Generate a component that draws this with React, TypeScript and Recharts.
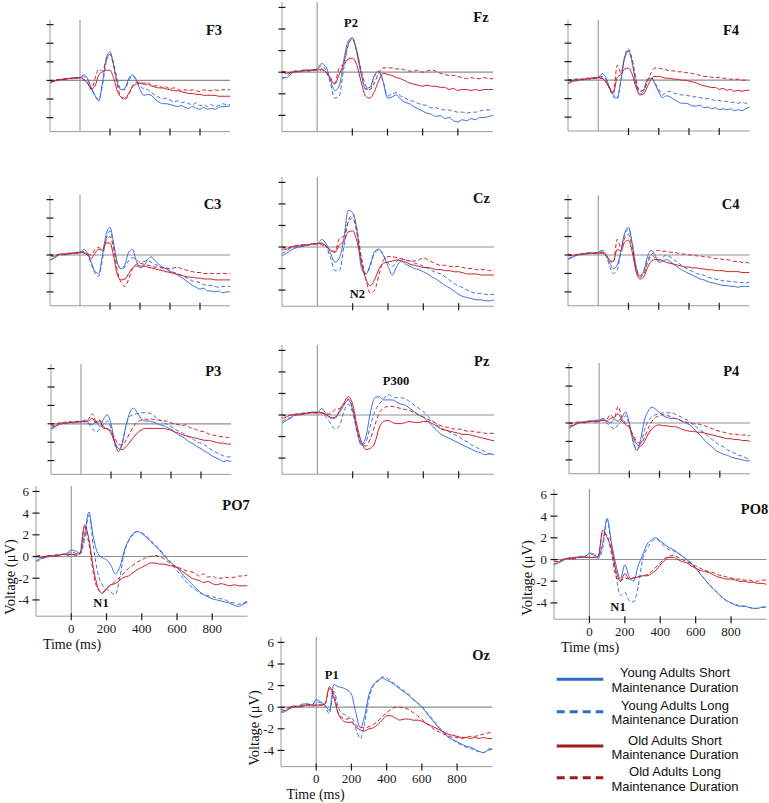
import React from 'react';
import { LineChart, Line, XAxis, YAxis, ReferenceLine } from 'recharts';

// ---------- categories ----------
const TIMES = [
  -200, -175, -150, -125, -100, -75, -50, -25, 0,
  25, 50, 75, 100, 125, 150, 175, 200, 225, 250, 275, 300, 325, 350, 375, 400,
  425, 450, 475, 500, 525, 550, 575, 600, 625, 650, 675, 700, 725, 750, 775, 800,
  825, 850, 875, 900, 925, 950, 975, 1000,
];
const X_TICKS_LABELLED = [0, 200, 400, 600, 800];
const X_TICKS_PLAIN = [200, 400, 600, 800];
const Y_TICKS = [-4, -2, 0, 2, 4, 6];
const SERIES_LABELS = [
  ['Young Adults Short', 'Maintenance Duration'],
  ['Young Adults Long', 'Maintenance Duration'],
  ['Old Adults Short', 'Maintenance Duration'],
  ['Old Adults Long', 'Maintenance Duration'],
];

// ---------- values (µV) : YS = young short, YL = young long, OS = old short, OL = old long ----------
const F3_YS = [-0.3,-0.1,0.0,0.1,0.1,0.2,0.2,0.2,0.3,
  0.6,0.2,-0.8,-1.6,-2.2,-0.2,2.4,3.1,1.5,-0.3,-1.0,-0.8,0.2,0.6,0.1,-1.0,
  -1.6,-1.5,-1.6,-2.0,-2.3,-2.5,-2.5,-2.6,-2.7,-2.8,-2.7,-2.9,-3.0,-2.8,-3.0,-3.1,-2.9,-3.1,-3.0,-3.1,-2.9,-2.8,-2.8,-2.7];
const F3_YL = [-0.2,-0.1,0.1,0.1,0.2,0.2,0.2,0.3,0.3,
  0.4,0.1,-0.8,-1.7,-2.0,-0.5,2.0,2.9,1.8,0.0,-1.0,-1.0,0.0,0.5,0.0,-0.6,
  -0.9,-1.0,-1.3,-1.6,-1.8,-2.0,-1.9,-2.1,-2.3,-2.2,-2.4,-2.3,-2.5,-2.6,-2.4,-2.7,-2.6,-2.8,-2.6,-2.8,-2.7,-2.5,-2.6,-2.6];
const F3_OS = [0.0,-0.1,0.1,0.1,0.2,0.2,0.3,0.3,0.3,
  0.1,-0.3,-0.9,-0.6,0.6,0.9,1.1,1.1,0.2,-1.2,-1.8,-1.9,-1.4,-0.7,-0.4,-0.3,
  -0.4,-0.4,-0.6,-0.7,-0.8,-0.8,-0.9,-1.0,-1.1,-1.1,-1.2,-1.3,-1.4,-1.4,-1.5,-1.5,-1.6,-1.6,-1.6,-1.6,-1.7,-1.7,-1.7,-1.7];
const F3_OL = [0.0,-0.1,0.0,0.1,0.1,0.2,0.2,0.3,0.3,
  0.1,-0.2,-1.0,0.2,1.2,1.0,2.2,2.8,1.5,-0.6,-1.8,-2.1,-1.5,-0.6,-0.2,-0.2,
  -0.3,-0.2,-0.5,-0.6,-0.5,-0.8,-0.7,-0.9,-0.8,-0.9,-1.1,-1.0,-1.1,-1.0,-1.1,-1.2,-1.0,-1.1,-1.1,-1.0,-1.1,-1.0,-1.0,-1.0];

const FZ_YS = [-0.5,-0.5,-0.2,0.1,0.0,0.2,0.1,0.2,0.3,
  0.8,0.5,-0.7,-1.7,-1.3,1.0,2.8,3.2,1.8,-0.2,-1.5,-1.4,-0.3,0.1,-0.9,-2.4,
  -2.3,-2.1,-2.5,-2.8,-2.9,-3.2,-3.4,-3.6,-3.8,-3.9,-4.1,-4.0,-4.3,-4.2,-4.5,-4.6,-4.4,-4.5,-4.3,-4.4,-4.2,-4.2,-4.1,-4.0];
const FZ_YL = [-0.6,-0.4,0.0,0.1,0.1,0.2,0.2,0.2,0.3,
  0.6,0.2,-1.0,-2.4,-2.2,0.2,2.5,3.1,2.0,0.0,-1.6,-1.6,-0.4,0.0,-0.8,-2.2,
  -2.0,-1.9,-2.2,-2.4,-2.6,-2.7,-2.9,-3.0,-3.1,-3.3,-3.3,-3.4,-3.5,-3.5,-3.6,-3.7,-3.7,-3.8,-3.7,-3.7,-3.6,-3.5,-3.5,-3.4];
const FZ_OS = [0.0,-0.1,0.0,0.0,0.1,0.1,0.2,0.2,0.2,
  0.3,0.0,-0.6,-1.1,-0.2,0.6,1.2,1.3,0.7,-0.9,-2.2,-2.4,-1.8,-0.8,-0.1,-0.2,
  -0.3,-0.5,-0.6,-0.8,-1.0,-1.1,-1.2,-1.3,-1.2,-1.3,-1.3,-1.4,-1.4,-1.6,-1.5,-1.7,-1.6,-1.6,-1.7,-1.6,-1.7,-1.6,-1.6,-1.6];
const FZ_OL = [0.1,0.0,-0.1,0.1,0.1,0.2,0.1,0.2,0.2,
  0.2,0.0,-0.5,-1.0,0.4,0.8,2.4,3.1,2.0,0.2,-1.2,-1.6,-1.0,-0.1,0.4,0.4,
  0.4,0.3,0.3,0.2,0.1,0.1,0.2,0.0,0.1,0.2,0.1,-0.1,-0.2,-0.3,-0.3,-0.4,-0.5,-0.6,-0.5,-0.6,-0.6,-0.5,-0.6,-0.6];

const F4_YS = [-0.4,-0.2,0.0,0.1,0.0,0.2,0.2,0.3,0.3,
  0.7,0.3,-0.8,-1.6,-1.9,0.0,2.4,3.1,1.8,-0.5,-1.5,-1.2,0.1,0.2,-0.4,-1.3,
  -1.9,-1.7,-1.8,-2.1,-2.3,-2.5,-2.5,-2.6,-2.8,-2.8,-2.7,-3.0,-2.9,-3.1,-3.0,-3.2,-3.1,-3.2,-3.1,-3.3,-3.2,-3.3,-3.1,-2.9];
const F4_YL = [-0.3,-0.1,0.1,0.1,0.1,0.2,0.1,0.2,0.3,
  0.4,0.1,-1.0,-1.8,-2.1,0.0,2.6,3.4,2.0,-0.2,-1.2,-1.0,0.1,0.3,-0.3,-1.0,
  -1.6,-1.3,-1.2,-1.4,-1.5,-1.6,-1.6,-1.7,-1.8,-1.8,-1.9,-2.0,-2.0,-2.1,-2.2,-2.2,-2.3,-2.3,-2.4,-2.4,-2.5,-2.4,-2.5,-2.4];
const F4_OS = [0.1,0.0,-0.1,0.0,0.1,0.1,0.2,0.2,0.3,
  0.2,-0.2,-0.9,-1.4,0.3,0.6,1.2,1.3,0.6,-0.8,-1.6,-1.5,-0.7,0.1,0.4,0.4,
  0.3,0.2,0.2,0.1,0.1,0.0,0.0,-0.1,-0.2,-0.3,-0.5,-0.6,-0.7,-0.8,-0.8,-1.0,-0.9,-1.1,-1.0,-1.2,-1.1,-1.2,-1.1,-1.1];
const F4_OL = [0.0,-0.1,0.1,0.1,0.1,0.2,0.1,0.2,0.2,
  0.2,-0.1,-0.8,-1.3,1.6,0.8,2.5,3.2,2.2,0.0,-1.2,-1.1,-0.2,0.8,1.3,1.3,
  1.2,1.1,1.0,1.0,0.9,0.9,0.8,0.8,0.7,0.6,0.5,0.4,0.4,0.3,0.3,0.3,0.2,0.2,0.1,0.1,0.1,0.0,0.0,0.0];

const C3_YS = [-0.5,-0.4,-0.1,0.1,0.0,0.1,0.2,0.3,0.3,
  0.6,0.2,-0.8,-1.8,-2.0,0.0,2.3,3.0,1.2,-0.9,-1.5,-1.0,0.3,0.6,-0.6,-1.4,
  -1.2,-0.5,-0.2,-0.6,-1.0,-1.3,-1.5,-1.8,-1.9,-2.2,-2.4,-2.7,-3.0,-3.3,-3.5,-3.7,-3.6,-3.9,-3.9,-4.0,-3.9,-4.1,-4.0,-4.0];
const C3_YL = [-0.6,-0.3,0.0,0.0,0.1,0.2,0.1,0.2,0.3,
  0.4,0.0,-1.0,-2.0,-2.3,-0.4,1.8,2.6,1.0,-1.0,-1.5,-1.3,-0.6,-0.3,-0.5,-0.8,
  -0.7,-0.6,-0.8,-1.0,-1.2,-1.4,-1.5,-1.7,-1.9,-2.0,-2.2,-2.4,-2.6,-2.8,-2.9,-3.0,-3.2,-3.3,-3.3,-3.4,-3.5,-3.4,-3.4,-3.4];
const C3_OS = [0.0,-0.2,0.0,0.1,0.1,0.2,0.2,0.2,0.3,
  0.2,0.0,-0.4,0.2,0.6,0.5,1.3,1.3,-0.2,-2.2,-2.7,-2.6,-2.0,-1.4,-1.2,-1.2,
  -1.2,-1.3,-1.4,-1.5,-1.6,-1.7,-1.8,-1.9,-2.0,-2.1,-2.2,-2.3,-2.4,-2.4,-2.5,-2.5,-2.6,-2.6,-2.6,-2.7,-2.7,-2.7,-2.7,-2.7];
const C3_OL = [0.1,-0.1,0.0,0.1,0.1,0.1,0.2,0.2,0.2,
  0.3,0.1,0.0,0.6,0.8,0.6,1.6,2.0,0.6,-1.8,-3.0,-3.4,-2.6,-1.5,-1.0,-0.9,
  -1.0,-1.1,-1.2,-1.3,-1.3,-1.4,-1.4,-1.5,-1.4,-1.3,-1.5,-1.6,-1.7,-1.8,-1.9,-1.9,-2.0,-2.0,-2.0,-2.0,-2.0,-2.0,-2.0,-2.0];

const CZ_YS = [-0.8,-0.6,-0.3,-0.1,0.0,0.1,0.2,0.3,0.3,
  0.7,0.3,-0.6,-1.4,-1.0,0.8,3.4,3.2,1.5,-2.0,-2.5,-1.6,-0.4,-0.2,-0.8,-1.8,
  -2.6,-1.8,-1.3,-1.6,-1.8,-2.0,-2.1,-2.3,-2.5,-2.8,-3.0,-3.3,-3.6,-3.8,-4.1,-4.4,-4.6,-4.7,-4.8,-4.9,-4.9,-5.0,-5.0,-4.9];
const CZ_YL = [-0.6,-0.4,-0.1,0.0,0.1,0.1,0.2,0.2,0.3,
  0.4,0.0,-1.0,-2.2,-2.2,0.0,2.4,3.0,1.6,-1.0,-2.5,-1.8,-0.5,-0.3,-0.8,-1.5,
  -1.8,-1.3,-1.1,-1.2,-1.3,-1.5,-1.6,-1.8,-2.0,-2.2,-2.4,-2.5,-2.8,-3.1,-3.4,-3.6,-3.8,-4.0,-4.2,-4.3,-4.3,-4.4,-4.4,-4.4];
const CZ_OS = [-0.2,-0.2,0.0,0.1,0.1,0.2,0.2,0.3,0.3,
  0.3,0.1,-0.3,-0.5,0.2,0.5,1.4,1.5,0.5,-1.5,-3.0,-3.6,-3.0,-2.0,-1.5,-1.4,
  -1.3,-1.2,-1.3,-1.4,-1.6,-1.7,-1.8,-1.9,-1.9,-2.0,-2.1,-2.1,-2.2,-2.2,-2.3,-2.3,-2.4,-2.5,-2.5,-2.5,-2.6,-2.6,-2.6,-2.6];
const CZ_OL = [0.0,-0.1,0.0,0.1,0.2,0.2,0.2,0.3,0.3,
  0.2,0.0,-0.3,-0.4,0.8,1.0,2.3,2.7,1.2,-1.2,-3.0,-4.3,-4.0,-2.5,-1.2,-0.9,
  -0.9,-1.0,-1.1,-1.2,-1.3,-1.3,-1.2,-1.0,-1.2,-1.4,-1.6,-1.7,-1.7,-1.8,-1.8,-1.8,-1.9,-2.0,-2.0,-2.1,-2.1,-2.1,-2.2,-2.2];

const C4_YS = [-0.5,-0.3,-0.1,0.0,0.1,0.1,0.2,0.2,0.3,
  0.5,0.1,-0.8,-1.5,-1.1,0.5,2.4,3.0,1.2,-1.4,-2.3,-1.8,-0.2,0.5,0.0,-0.8,
  -0.7,-0.5,-0.7,-1.0,-1.3,-1.6,-1.8,-2.0,-2.2,-2.4,-2.6,-2.7,-2.9,-3.0,-3.1,-3.2,-3.3,-3.3,-3.4,-3.4,-3.5,-3.4,-3.4,-3.4];
const C4_YL = [-0.4,-0.2,0.0,0.1,0.1,0.2,0.2,0.2,0.3,
  0.3,0.0,-1.2,-2.0,-1.6,0.3,2.2,2.8,1.3,-1.2,-2.2,-1.8,-0.6,0.0,-0.3,-0.6,
  -0.3,0.0,-0.2,-0.5,-0.8,-1.1,-1.4,-1.6,-1.8,-2.0,-2.1,-2.2,-2.4,-2.5,-2.6,-2.7,-2.8,-2.8,-2.9,-2.9,-3.0,-3.0,-3.0,-3.0];
const C4_OS = [0.0,-0.1,0.0,0.1,0.1,0.2,0.2,0.2,0.2,
  0.2,0.0,-0.5,-0.7,0.6,0.4,1.4,1.6,0.3,-1.8,-2.6,-2.4,-1.4,-0.7,-0.5,-0.5,
  -0.6,-0.8,-0.9,-1.0,-1.1,-1.2,-1.3,-1.3,-1.4,-1.4,-1.5,-1.5,-1.6,-1.6,-1.7,-1.7,-1.7,-1.8,-1.8,-1.8,-1.8,-1.9,-1.9,-1.9];
const C4_OL = [0.1,0.0,0.0,0.1,0.1,0.2,0.2,0.2,0.2,
  0.3,0.0,-0.7,-0.8,1.7,0.8,1.8,2.2,0.8,-1.4,-2.4,-2.1,-0.9,0.0,0.4,0.5,
  0.4,0.4,0.3,0.3,0.2,0.1,0.1,0.0,0.0,-0.1,-0.1,-0.2,-0.2,-0.3,-0.4,-0.4,-0.5,-0.5,-0.6,-0.7,-0.7,-0.8,-0.8,-0.9];

const P3_YS = [-0.5,-0.3,-0.1,0.0,0.1,0.1,0.2,0.3,0.2,
  0.4,0.1,-0.1,0.3,-0.3,0.5,1.0,0.0,-2.0,-3.0,-2.2,-0.2,1.2,1.7,1.2,0.6,
  0.3,0.3,0.2,0.1,-0.1,-0.2,-0.4,-0.6,-0.9,-1.2,-1.4,-1.7,-2.0,-2.2,-2.5,-2.7,-3.0,-3.2,-3.5,-3.7,-3.9,-4.1,-4.0,-4.1];
const P3_YL = [-0.6,-0.4,-0.1,0.0,0.1,0.2,0.2,0.2,0.3,
  0.2,0.0,-0.5,-0.9,-0.6,0.0,0.3,-0.5,-2.2,-3.0,-2.0,-0.2,0.8,1.0,1.1,1.2,
  1.2,1.2,1.0,0.7,0.4,0.2,-0.1,-0.3,-0.6,-0.8,-1.0,-1.2,-1.5,-1.7,-2.0,-2.1,-2.3,-2.6,-2.9,-3.1,-3.3,-3.5,-3.6,-3.6];
const P3_OS = [-0.2,-0.3,0.0,0.1,0.0,0.2,0.1,0.2,0.2,
  0.3,0.3,0.6,0.1,0.3,-0.5,-0.5,-1.0,-2.0,-2.7,-2.8,-2.5,-2.0,-1.5,-1.0,-0.7,
  -0.5,-0.5,-0.5,-0.5,-0.5,-0.5,-0.6,-0.7,-0.9,-1.0,-1.2,-1.3,-1.4,-1.5,-1.6,-1.7,-1.8,-1.8,-1.9,-2.0,-2.1,-2.1,-2.2,-2.2];
const P3_OL = [0.0,-0.2,0.1,0.1,0.2,0.2,0.1,0.2,0.3,
  0.2,0.5,1.1,0.3,0.4,-0.3,-0.6,-0.8,-1.6,-2.2,-2.3,-1.8,-1.0,-0.3,0.2,0.4,
  0.5,0.5,0.5,0.4,0.4,0.3,0.3,0.1,0.0,-0.1,-0.2,-0.1,-0.4,-0.5,-0.7,-0.8,-0.9,-1.1,-1.2,-1.3,-1.4,-1.4,-1.5,-1.5];

const PZ_YS = [-0.8,-0.5,-0.3,0.0,0.0,0.1,0.2,0.3,0.2,
  0.6,0.1,-0.3,-0.2,0.2,0.9,1.4,0.5,-1.5,-2.8,-2.0,0.2,1.6,1.7,1.4,1.4,
  1.4,1.2,1.0,0.9,0.6,0.3,0.0,-0.2,-0.6,-1.0,-1.4,-1.8,-2.0,-2.2,-2.4,-2.6,-2.8,-3.0,-3.2,-3.4,-3.5,-3.7,-3.6,-3.7];
const PZ_YL = [-0.6,-0.4,-0.2,0.0,0.1,0.1,0.2,0.2,0.3,
  0.2,-0.2,-0.8,-1.3,-1.0,0.3,1.0,0.2,-1.6,-2.8,-2.5,-1.0,0.3,1.0,1.5,1.9,
  1.7,1.6,1.6,1.5,1.2,0.9,0.6,0.3,-0.1,-0.5,-0.9,-1.2,-1.4,-1.6,-1.8,-2.0,-2.3,-2.5,-2.8,-3.0,-3.2,-3.4,-3.6,-3.6];
const PZ_OS = [-0.3,-0.2,0.0,0.0,0.1,0.1,0.2,0.2,0.2,
  0.2,0.0,-0.2,-0.3,0.4,1.1,1.7,1.0,-1.0,-2.5,-3.2,-3.1,-2.6,-1.2,-0.6,-0.5,
  -0.7,-0.8,-0.8,-0.7,-0.6,-0.7,-0.7,-0.6,-0.6,-0.8,-1.0,-1.3,-1.4,-1.5,-1.6,-1.7,-1.8,-1.8,-1.9,-2.0,-2.1,-2.2,-2.3,-2.4];
const PZ_OL = [0.0,-0.1,0.0,0.1,0.1,0.2,0.2,0.2,0.2,
  0.2,0.1,0.1,0.5,0.6,1.0,1.5,0.6,-1.4,-2.6,-2.9,-2.2,-1.0,0.2,0.6,0.8,
  0.8,0.7,0.6,0.5,0.4,0.2,0.0,-0.2,-0.4,-0.6,-0.8,-1.0,-1.1,-1.2,-1.3,-1.3,-1.4,-1.5,-1.5,-1.6,-1.6,-1.7,-1.7,-1.7];

const P4_YS = [-0.5,-0.3,-0.1,0.0,0.1,0.2,0.2,0.3,0.3,
  0.5,0.2,0.0,0.4,0.2,0.6,1.2,0.0,-2.0,-3.0,-1.8,0.3,1.3,1.7,1.5,1.1,
  0.8,0.6,0.5,0.5,0.4,0.2,0.0,-0.2,-0.6,-1.0,-1.4,-1.9,-2.3,-2.6,-3.0,-3.2,-3.4,-3.5,-3.7,-3.8,-3.9,-4.0,-4.1,-4.1];
const P4_YL = [-0.6,-0.3,-0.1,0.0,0.1,0.1,0.2,0.2,0.3,
  0.3,0.0,-0.4,-0.6,-0.2,0.3,0.8,-0.3,-2.0,-2.9,-2.3,-0.8,0.2,0.7,0.9,1.0,
  1.1,1.1,1.1,1.0,0.8,0.6,0.4,0.2,-0.2,-0.5,-0.8,-1.1,-1.5,-1.8,-2.1,-2.4,-2.6,-2.9,-3.1,-3.3,-3.5,-3.6,-3.8,-3.9];
const P4_OS = [-0.2,-0.3,0.0,0.1,0.0,0.1,0.2,0.1,0.2,
  0.3,0.2,0.5,0.6,1.0,0.3,-0.2,-0.5,-1.5,-2.3,-2.5,-2.0,-1.2,-0.6,-0.3,-0.2,
  -0.3,-0.3,-0.4,-0.4,-0.5,-0.7,-0.8,-0.9,-0.9,-1.0,-1.0,-1.1,-1.2,-1.3,-1.4,-1.5,-1.6,-1.7,-1.7,-1.8,-1.8,-1.9,-1.9,-2.0];
const P4_OL = [0.0,-0.1,0.1,0.1,0.1,0.2,0.2,0.2,0.2,
  0.3,0.4,0.9,0.5,1.8,0.6,0.0,-0.4,-1.3,-2.0,-2.2,-1.6,-0.6,0.2,0.6,0.8,
  0.9,0.8,0.7,0.5,0.4,0.2,0.1,0.0,-0.1,-0.1,-0.2,-0.3,-0.5,-0.6,-0.8,-0.9,-1.0,-1.1,-1.2,-1.2,-1.3,-1.3,-1.3,-1.4];

const PO7_YS = [-0.4,-0.2,-0.1,0.0,0.1,0.1,0.2,0.3,0.6,
  0.5,0.3,2.0,4.1,1.8,0.3,-0.1,-0.3,-0.8,-1.6,-1.0,0.5,1.5,2.1,2.3,2.1,
  1.8,1.4,1.0,0.6,0.1,-0.3,-0.7,-1.0,-1.5,-2.0,-2.4,-2.8,-3.2,-3.5,-3.7,-3.9,-4.0,-4.1,-4.2,-4.3,-4.5,-4.6,-4.4,-4.2];
const PO7_YL = [-0.5,-0.3,-0.1,0.0,0.1,0.2,0.2,0.2,0.4,
  0.3,0.2,1.5,3.8,1.0,-1.5,-2.6,-3.0,-3.3,-3.5,-2.0,0.3,1.4,2.0,2.3,2.2,
  1.9,1.5,1.1,0.7,0.2,-0.3,-0.8,-1.3,-1.8,-2.3,-2.7,-3.0,-3.3,-3.5,-3.6,-3.7,-3.8,-3.9,-4.0,-4.2,-4.3,-4.4,-4.3,-4.1];
const PO7_OS = [0.1,-0.1,0.0,0.1,0.0,0.1,0.2,0.2,0.2,
  0.2,0.3,2.9,1.6,-1.0,-2.8,-3.4,-3.0,-2.6,-2.5,-2.2,-1.9,-1.8,-1.5,-1.2,-1.0,
  -0.8,-0.6,-0.6,-0.7,-0.7,-0.8,-0.9,-1.0,-1.3,-1.6,-1.9,-2.1,-2.2,-2.4,-2.3,-2.5,-2.6,-2.5,-2.6,-2.7,-2.6,-2.7,-2.7,-2.7];
const PO7_OL = [0.0,0.1,-0.1,0.1,0.0,0.1,0.2,0.1,0.2,
  0.1,0.3,2.7,1.2,-1.5,-3.0,-3.3,-2.9,-2.6,-2.3,-1.9,-1.5,-1.1,-0.8,-0.5,-0.3,
  -0.1,0.0,0.1,0.0,-0.2,-0.5,-0.8,-1.0,-1.1,-1.3,-1.4,-1.5,-1.8,-1.6,-1.9,-1.8,-2.0,-2.0,-1.9,-2.0,-1.9,-1.8,-1.8,-1.7];

const PO8_YS = [-0.5,-0.3,-0.1,0.1,0.2,0.2,0.3,0.3,0.6,
  0.5,0.2,1.5,3.8,1.5,-0.5,-1.8,-0.5,-1.6,-2.0,-0.6,0.4,1.4,1.8,2.0,1.7,
  1.4,1.1,0.9,0.6,0.3,0.0,-0.4,-0.8,-1.3,-1.8,-2.3,-2.7,-3.1,-3.5,-3.8,-4.0,-4.2,-4.3,-4.3,-4.4,-4.5,-4.5,-4.4,-4.4];
const PO8_YL = [-0.4,-0.3,0.0,0.1,0.1,0.2,0.2,0.3,0.5,
  0.4,0.1,1.0,3.6,1.0,-1.5,-3.3,-3.0,-3.8,-3.9,-2.5,0.0,1.0,1.6,1.9,1.6,
  1.2,0.9,0.8,0.6,0.3,0.0,-0.3,-0.8,-1.3,-1.8,-2.3,-2.7,-3.1,-3.5,-3.8,-4.0,-4.1,-4.3,-4.3,-4.4,-4.5,-4.5,-4.4,-4.3];
const PO8_OS = [-0.2,-0.2,0.0,0.1,0.1,0.2,0.2,0.2,0.2,
  0.2,0.3,2.7,2.0,1.0,-1.0,-2.0,-1.3,-1.8,-1.7,-1.6,-1.5,-1.5,-1.3,-1.0,-0.5,
  -0.1,0.2,0.2,0.0,-0.2,-0.3,-0.6,-0.8,-1.0,-1.1,-1.2,-1.4,-1.6,-1.7,-1.8,-1.8,-1.9,-2.0,-2.0,-2.1,-2.1,-2.2,-2.2,-2.3];
const PO8_OL = [-0.1,-0.2,0.0,0.1,0.0,0.1,0.2,0.2,0.2,
  0.2,0.3,2.5,2.2,0.5,-1.5,-2.0,-1.7,-1.8,-1.7,-1.6,-1.5,-1.4,-1.1,-0.7,-0.3,
  0.1,0.3,0.4,0.2,0.0,-0.2,-0.4,-0.6,-0.8,-1.0,-1.1,-1.2,-1.4,-1.5,-1.6,-1.7,-1.8,-1.8,-1.9,-1.9,-2.0,-2.0,-1.9,-1.9];

const OZ_YS = [-0.5,-0.4,-0.1,0.0,0.1,0.3,0.3,0.2,0.7,
  0.5,0.2,-0.3,2.1,1.9,1.8,1.6,1.2,-0.5,-1.9,-0.8,1.2,2.1,2.4,2.7,2.5,
  2.3,2.0,1.7,1.4,1.1,0.7,0.4,0.0,-0.5,-1.0,-1.5,-2.0,-2.4,-2.8,-3.0,-3.2,-3.4,-3.6,-3.7,-3.9,-4.1,-4.2,-4.0,-3.9];
const OZ_YL = [-0.4,-0.3,-0.1,0.0,0.1,0.2,0.3,0.2,0.5,
  0.4,0.1,-0.6,1.5,0.0,-0.6,-0.8,-1.2,-2.0,-2.9,-1.5,0.8,2.0,2.5,2.8,2.7,
  2.4,2.1,1.8,1.5,1.2,0.8,0.4,0.1,-0.4,-0.9,-1.4,-1.9,-2.3,-2.7,-3.0,-3.3,-3.5,-3.7,-3.8,-4.0,-4.1,-4.2,-3.9,-3.8];
const OZ_OS = [-0.2,-0.3,0.0,0.1,0.0,0.1,0.2,0.2,0.2,
  0.2,0.3,1.9,0.9,-0.6,-1.2,-1.4,-1.4,-1.8,-2.1,-2.2,-2.0,-1.9,-1.6,-1.2,-0.8,
  -0.8,-1.0,-1.2,-1.1,-1.1,-1.2,-1.2,-1.3,-1.5,-1.7,-1.9,-2.1,-2.3,-2.5,-2.6,-2.7,-2.8,-2.8,-2.9,-2.8,-2.9,-2.8,-2.9,-2.9];
const OZ_OL = [-0.1,0.0,-0.1,0.1,0.1,0.1,0.2,0.1,0.2,
  0.2,0.3,1.7,1.2,-0.5,-1.0,-1.1,-1.0,-1.6,-1.9,-1.9,-1.8,-1.6,-1.3,-0.9,-0.5,
  -0.2,0.0,0.0,-0.1,-0.2,-0.5,-0.8,-1.1,-1.5,-1.8,-2.1,-2.3,-2.5,-2.6,-2.8,-2.8,-2.9,-2.8,-2.7,-2.7,-2.6,-2.5,-2.4,-2.3];

// ---------- styling / layout ----------
const SERIF = '"Liberation Serif", "Times New Roman", Times, serif';
const SANS = '"Liberation Sans", Arial, Helvetica, sans-serif';
const BLUE = '#3b6fdc';
const RED = '#cc1f27';
const LEG_BLUE = '#2e6ec2';
const LEG_RED = '#a3181c';
const Y_MIN = -5.5;
const Y_MAX = 6.5;

type PanelDef = {
  name: string;
  left: number;
  right: number;
  zeroY: number;
  unit: number;
  big: boolean;
  series: number[][];
};

const PANELS: PanelDef[] = [
  { name: 'F3', left: 50, right: 230, zeroY: 80, unit: 9.3, big: false, series: [F3_YS, F3_YL, F3_OS, F3_OL] },
  { name: 'Fz', left: 282, right: 493, zeroY: 72, unit: 10.8, big: false, series: [FZ_YS, FZ_YL, FZ_OS, FZ_OL] },
  { name: 'F4', left: 567.5, right: 749, zeroY: 80.3, unit: 9.25, big: false, series: [F4_YS, F4_YL, F4_OS, F4_OL] },
  { name: 'C3', left: 50, right: 230, zeroY: 255, unit: 9.23, big: false, series: [C3_YS, C3_YL, C3_OS, C3_OL] },
  { name: 'Cz', left: 282, right: 494, zeroY: 247.3, unit: 10.77, big: false, series: [CZ_YS, CZ_YL, CZ_OS, CZ_OL] },
  { name: 'C4', left: 567.5, right: 749, zeroY: 255.3, unit: 9.23, big: false, series: [C4_YS, C4_YL, C4_OS, C4_OL] },
  { name: 'P3', left: 51, right: 231, zeroY: 423.3, unit: 9.2, big: false, series: [P3_YS, P3_YL, P3_OS, P3_OL] },
  { name: 'Pz', left: 282, right: 494, zeroY: 415, unit: 10.77, big: false, series: [PZ_YS, PZ_YL, PZ_OS, PZ_OL] },
  { name: 'P4', left: 569, right: 750, zeroY: 423.3, unit: 9.23, big: false, series: [P4_YS, P4_YL, P4_OS, P4_OL] },
  { name: 'PO7', left: 36, right: 247.5, zeroY: 556.3, unit: 10.85, big: true, series: [PO7_YS, PO7_YL, PO7_OS, PO7_OL] },
  { name: 'PO8', left: 554, right: 766.5, zeroY: 559.3, unit: 10.85, big: true, series: [PO8_YS, PO8_YL, PO8_OS, PO8_OL] },
  { name: 'Oz', left: 280.7, right: 492, zeroY: 707.3, unit: 10.8, big: true, series: [OZ_YS, OZ_YL, OZ_OS, OZ_OL] },
];

const PANEL_LABELS = [
  { text: 'F3', x: 214, y: 30 },
  { text: 'Fz', x: 481, y: 17 },
  { text: 'F4', x: 731, y: 29.5 },
  { text: 'C3', x: 212.5, y: 203.5 },
  { text: 'Cz', x: 481.5, y: 197.5 },
  { text: 'C4', x: 730.7, y: 204 },
  { text: 'P3', x: 213.3, y: 371 },
  { text: 'Pz', x: 481.7, y: 361 },
  { text: 'P4', x: 731.3, y: 371 },
  { text: 'PO7', x: 236, y: 505 },
  { text: 'PO8', x: 754.5, y: 508.5 },
  { text: 'Oz', x: 481, y: 655 },
];
const COMPONENT_LABELS = [
  { text: 'P2', x: 351, y: 22.5 },
  { text: 'N2', x: 357.3, y: 293.5 },
  { text: 'P300', x: 396, y: 381 },
  { text: 'N1', x: 101, y: 603 },
  { text: 'N1', x: 618, y: 607 },
  { text: 'P1', x: 331.7, y: 674.5 },
];
const Y_TITLES = [
  { x: 9.5, y: 577 },
  { x: 527, y: 578 },
  { x: 254, y: 728 },
];
const X_TITLES = [
  { x: 72, y: 644 },
  { x: 590, y: 647 },
  { x: 315.5, y: 794.5 },
];

function buildRows(series: number[][]) {
  return TIMES.map((t, i) => ({ t, ys: series[0][i], yl: series[1][i], os: series[2][i], ol: series[3][i] }));
}

function YTick(props: any) {
  const { x, y, payload, big } = props;
  return (
    <g>
      <line x1={x - 3.5} x2={x + 3.5} y1={y} y2={y} stroke="#1a1a1a" strokeWidth={1.2} />
      {big ? (
        <text x={x - 7} y={y} textAnchor="end" dominantBaseline="central" fontFamily={SERIF} fontSize={13} fill="#1a1a1a">
          {String(payload.value)}
        </text>
      ) : null}
    </g>
  );
}

function XTick(props: any) {
  const { x, y, payload, big } = props;
  return (
    <g>
      <line x1={x} x2={x} y1={y - 3} y2={y + 4} stroke="#1a1a1a" strokeWidth={1.2} />
      {big ? (
        <text x={x} y={y + 12} textAnchor="middle" dominantBaseline="central" fontFamily={SERIF} fontSize={13} fill="#1a1a1a">
          {String(payload.value)}
        </text>
      ) : null}
    </g>
  );
}

const YAXIS_W = 30;
const XAXIS_H = 20;

function Panel({ p }: { p: PanelDef }) {
  const ML = 36;
  const MR = 2;
  const MT = 4;
  const MB = 24;
  const plotW = p.right - p.left;
  const plotH = (Y_MAX - Y_MIN) * p.unit;
  const plotTop = p.zeroY - Y_MAX * p.unit;
  const width = ML + plotW + MR;
  const height = MT + plotH + MB;
  const rows = buildRows(p.series);
  return (
    <div style={{ position: 'absolute', left: p.left - ML, top: plotTop - MT, width, height }}>
      <LineChart width={width} height={height} data={rows} margin={{ top: MT, right: MR, bottom: MB - XAXIS_H, left: ML - YAXIS_W }}>
        <XAxis
          dataKey="t"
          type="number"
          domain={[-200, 1000]}
          ticks={p.big ? X_TICKS_LABELLED : X_TICKS_PLAIN}
          interval={0}
          height={XAXIS_H}
          tickSize={0}
          tickMargin={0}
          tickLine={false}
          axisLine={{ stroke: '#9a9a9a', strokeWidth: 1 }}
          tick={(tp: any) => <XTick {...tp} big={p.big} />}
          allowDataOverflow
        />
        <YAxis
          type="number"
          domain={[Y_MIN, Y_MAX]}
          ticks={Y_TICKS}
          interval={0}
          width={YAXIS_W}
          tickSize={0}
          tickMargin={0}
          tickLine={false}
          axisLine={{ stroke: '#9a9a9a', strokeWidth: 1 }}
          tick={(tp: any) => <YTick {...tp} big={p.big} />}
          allowDataOverflow
        />
        <ReferenceLine y={0} stroke="#8e8e8e" strokeWidth={1.2} />
        <ReferenceLine x={0} stroke="#8e8e8e" strokeWidth={1} />
        <Line type="monotone" dataKey="ys" stroke={BLUE} strokeWidth={1} dot={false} isAnimationActive={false} />
        <Line type="monotone" dataKey="yl" stroke={BLUE} strokeWidth={1} strokeDasharray="4 2.5" dot={false} isAnimationActive={false} />
        <Line type="monotone" dataKey="os" stroke={RED} strokeWidth={1} dot={false} isAnimationActive={false} />
        <Line type="monotone" dataKey="ol" stroke={RED} strokeWidth={1} strokeDasharray="4 2.5" dot={false} isAnimationActive={false} />
      </LineChart>
    </div>
  );
}

const LEGEND_ITEMS = [
  { lineY: 679.3, textY: [672.7, 687.7], color: LEG_BLUE, dashed: false },
  { lineY: 711.7, textY: [705, 719.5], color: LEG_BLUE, dashed: true },
  { lineY: 746, textY: [740, 754.5], color: LEG_RED, dashed: false },
  { lineY: 777.7, textY: [771.7, 786], color: LEG_RED, dashed: true },
];

export default function App() {
  return (
    <div style={{ position: 'absolute', left: 0, top: 0, width: 769, height: 803, overflow: 'hidden', background: '#fff' }}>
      {PANELS.map((p) => (
        <Panel key={p.name} p={p} />
      ))}
      <svg width={769} height={803} style={{ position: 'absolute', left: 0, top: 0, pointerEvents: 'none' }}>
        {PANEL_LABELS.map((l) => (
          <text key={l.text} x={l.x} y={l.y} textAnchor="middle" dominantBaseline="central" fontFamily={SERIF} fontWeight="bold" fontSize={14.5} fill="#111">
            {l.text}
          </text>
        ))}
        {COMPONENT_LABELS.map((l, i) => (
          <text key={'c' + i} x={l.x} y={l.y} textAnchor="middle" dominantBaseline="central" fontFamily={SERIF} fontWeight="bold" fontSize={12.5} fill="#111">
            {l.text}
          </text>
        ))}
        {Y_TITLES.map((l, i) => (
          <text key={'yt' + i} transform={`translate(${l.x},${l.y}) rotate(-90)`} textAnchor="middle" dominantBaseline="central" fontFamily={SERIF} fontSize={14.5} fill="#111">
            Voltage (μV)
          </text>
        ))}
        {X_TITLES.map((l, i) => (
          <text key={'xt' + i} x={l.x} y={l.y} textAnchor="middle" dominantBaseline="central" fontFamily={SERIF} fontSize={14} fill="#111">
            Time (ms)
          </text>
        ))}
        {LEGEND_ITEMS.map((it, i) => (
          <g key={'lg' + i}>
            <line x1={556.7} x2={603.3} y1={it.lineY} y2={it.lineY} stroke={it.color} strokeWidth={3} strokeDasharray={it.dashed ? '8 5' : undefined} />
            <text x={675} y={it.textY[0]} textAnchor="middle" dominantBaseline="central" fontFamily={SANS} fontSize={13} fill="#111">
              {SERIES_LABELS[i][0]}
            </text>
            <text x={675} y={it.textY[1]} textAnchor="middle" dominantBaseline="central" fontFamily={SANS} fontSize={13} fill="#111">
              {SERIES_LABELS[i][1]}
            </text>
          </g>
        ))}
      </svg>
    </div>
  );
}
